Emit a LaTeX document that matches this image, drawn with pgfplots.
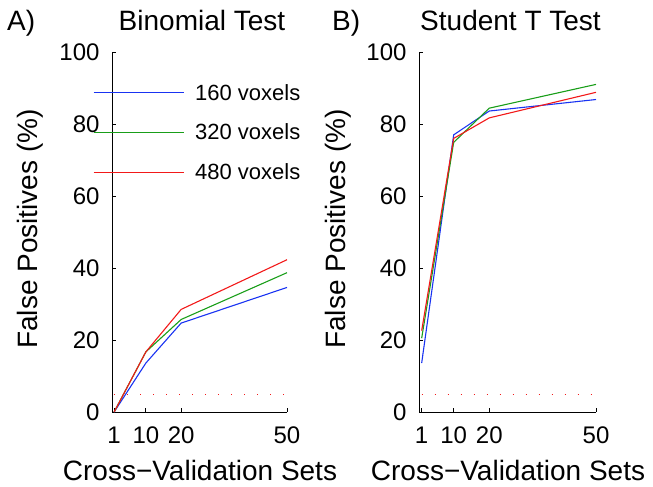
\documentclass[border=0pt]{standalone}
\usepackage{pgfplots}
\pgfplotsset{compat=1.18}
\usepackage{fontspec}
\setmainfont{Liberation Sans}
\definecolor{mblue}{rgb}{0.1,0.2,0.95}
\definecolor{mgreen}{rgb}{0.1,0.62,0.1}
\definecolor{mred}{rgb}{0.95,0.1,0.1}
\begin{document}
\begin{tikzpicture}[x=1pt,y=1pt]
\path[use as bounding box] (0pt,0pt) rectangle (653pt,-487pt);
\pgfplotsset{
 myax/.style={
  scale only axis, width=175pt, height=360pt, anchor=south west,
  xmin=0.4, xmax=50, ymin=0, ymax=100,
  axis lines=left, axis line style={-, black, line width=0.8pt},
  xtick={1,10,20,50}, ytick={0,20,...,100},
  tick align=inside, major tick length=4pt, tick style={black, line width=0.8pt},
  tick label style={font=\fontsize{24}{24}\selectfont},
  yticklabel style={xshift=-9pt},
  xticklabel style={yshift=-11pt},
  /pgf/number format/assume math mode=true,
  clip=false,
  every axis plot/.append style={line width=1.1pt},
 }
}
\begin{axis}[myax, at={(112pt,-412pt)},
  legend image post style={xscale=5.27},
  legend style={draw=none, fill=none, font=\fontsize{22}{22}\selectfont,
    inner sep=0pt, row sep=18.5pt, column sep=9pt,
    at={(rel axis cs:-0.109,0.917)}, anchor=north west},
  legend cell align=left]
\addplot[mblue] coordinates {(1,0) (10,13.6) (20,24.7) (50,34.6)};
\addplot[mgreen] coordinates {(1,0) (10,16.7) (20,25.7) (50,38.7)};
\addplot[mred] coordinates {(1,0) (10,16.7) (20,28.5) (50,42.3)};
\addplot[mred, line width=1pt, dash pattern=on 1.2pt off 11.8pt, forget plot] coordinates {(1,5) (50,5)};
\legend{160 voxels, 320 voxels, 480 voxels}
\end{axis}
\begin{axis}[myax, at={(419pt,-412pt)}, width=177pt, xmin=0.25]
\addplot[mblue] coordinates {(1,13.6) (10,77.0) (20,83.6) (50,86.8)};
\addplot[mgreen] coordinates {(1,20.5) (10,74.9) (20,84.4) (50,91.0)};
\addplot[mred] coordinates {(1,22.6) (10,76.0) (20,81.7) (50,88.8)};
\addplot[mred, line width=1pt, dash pattern=on 1.2pt off 11.8pt] coordinates {(1,5) (50,5)};
\end{axis}
\begin{scope}[every node/.style={font=\fontsize{28}{28}\selectfont, inner sep=0pt}]
\node[anchor=base] at (202pt,-30.5pt) {Binomial Test};
\node[anchor=base] at (510.5pt,-30.5pt) {Student T Test};
\node[anchor=base west] at (7pt,-30.5pt) {A)};
\node[anchor=base west] at (332pt,-30.5pt) {B)};
\node[anchor=base] at (200pt,-480pt) {Cross−Validation Sets};
\node[anchor=base] at (508pt,-480pt) {Cross−Validation Sets};
\node[anchor=base, rotate=90] at (37pt,-229pt) {False Positives (\%)};
\node[anchor=base, rotate=90] at (345pt,-229pt) {False Positives (\%)};
\end{scope}
\end{tikzpicture}
\end{document}
